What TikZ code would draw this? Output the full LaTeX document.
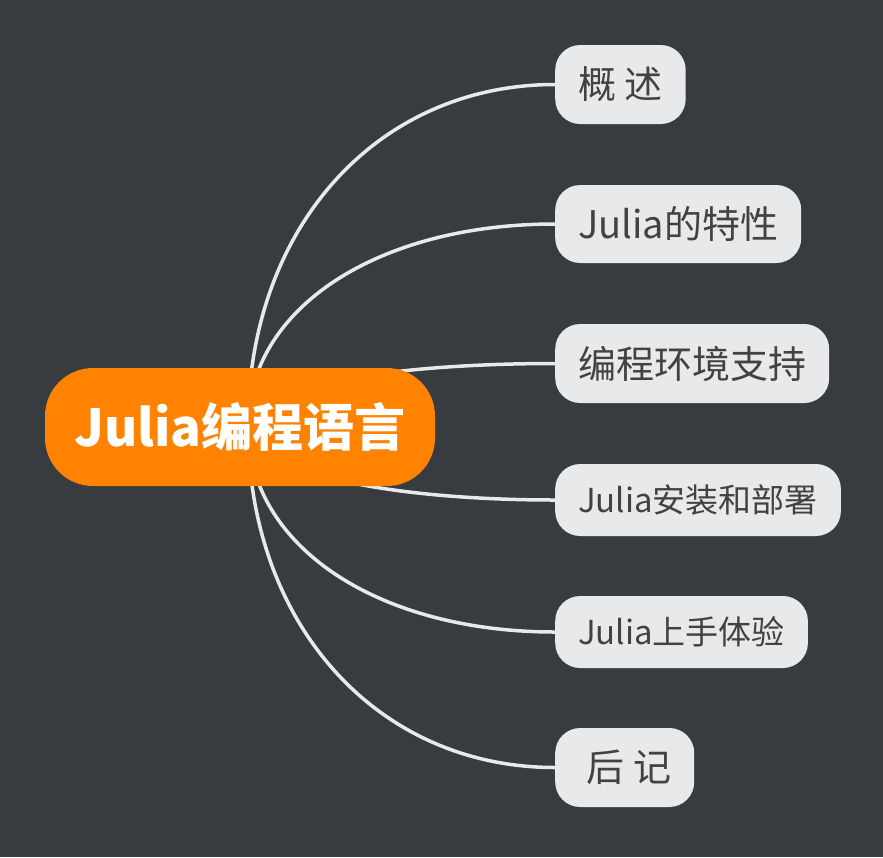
\documentclass[tikz,border=0pt]{standalone}
\usepackage{fontspec}
\usetikzlibrary{calc,backgrounds}
\newfontfamily\cjk{Noto Sans CJK SC}
\definecolor{cBack}{HTML}{383B40}
\definecolor{cOrange}{HTML}{FF8300}
\definecolor{clGray}{HTML}{E8E9EB}
\definecolor{cText}{HTML}{424242}
\tikzset{
	root/.style={fill=cOrange, rounded corners=48pt, text=white, minimum width=390pt, minimum height=118pt, inner sep=0pt, font=\cjk\bfseries\fontsize{51}{51}\selectfont},
	topic/.style={fill=clGray, rounded corners=25pt, text=cText, anchor=west, inner xsep=23pt, inner ysep=0pt},
	link/.style={draw=clGray, line width=3.5pt}
}

\begin{document}
\begin{tikzpicture}[x=1pt, y=-1pt]
		\useasboundingbox (0,0) rectangle (883,857);
		%main topic
		\node [root] (main) at (240,427) {Julia编程语言};
		\coordinate (hub) at (248,426);
		%sub topics
		\foreach \i/\y/\t/\s/\h in {1/84.5/概 述/38/79, 2/224/Julia的特性/38/78, 3/363.5/编程环境支持/38/79, 4/500/Julia安装和部署/33/72, 5/632/Julia上手体验/33/72, 6/767.5/{\ 后 记}/38/79}
		{
			\node [topic, font=\cjk\fontsize{\s}{\s}\selectfont, minimum height=\h pt] (b\i) at (555,\y) {\t};
		}
		
		\begin{scope}[on background layer]
			\fill [cBack] (0,0) rectangle (883,857);
			%curves from the main topic
			\foreach \i in {1,...,6}
			{
				\draw [link] (hub) .. controls ($(hub)!0.58!(hub |- b\i.west)$) and ($(b\i.west)!0.58!(hub |- b\i.west)$) .. (b\i.west);
			}
		\end{scope}
		
\end{tikzpicture}
\end{document}
